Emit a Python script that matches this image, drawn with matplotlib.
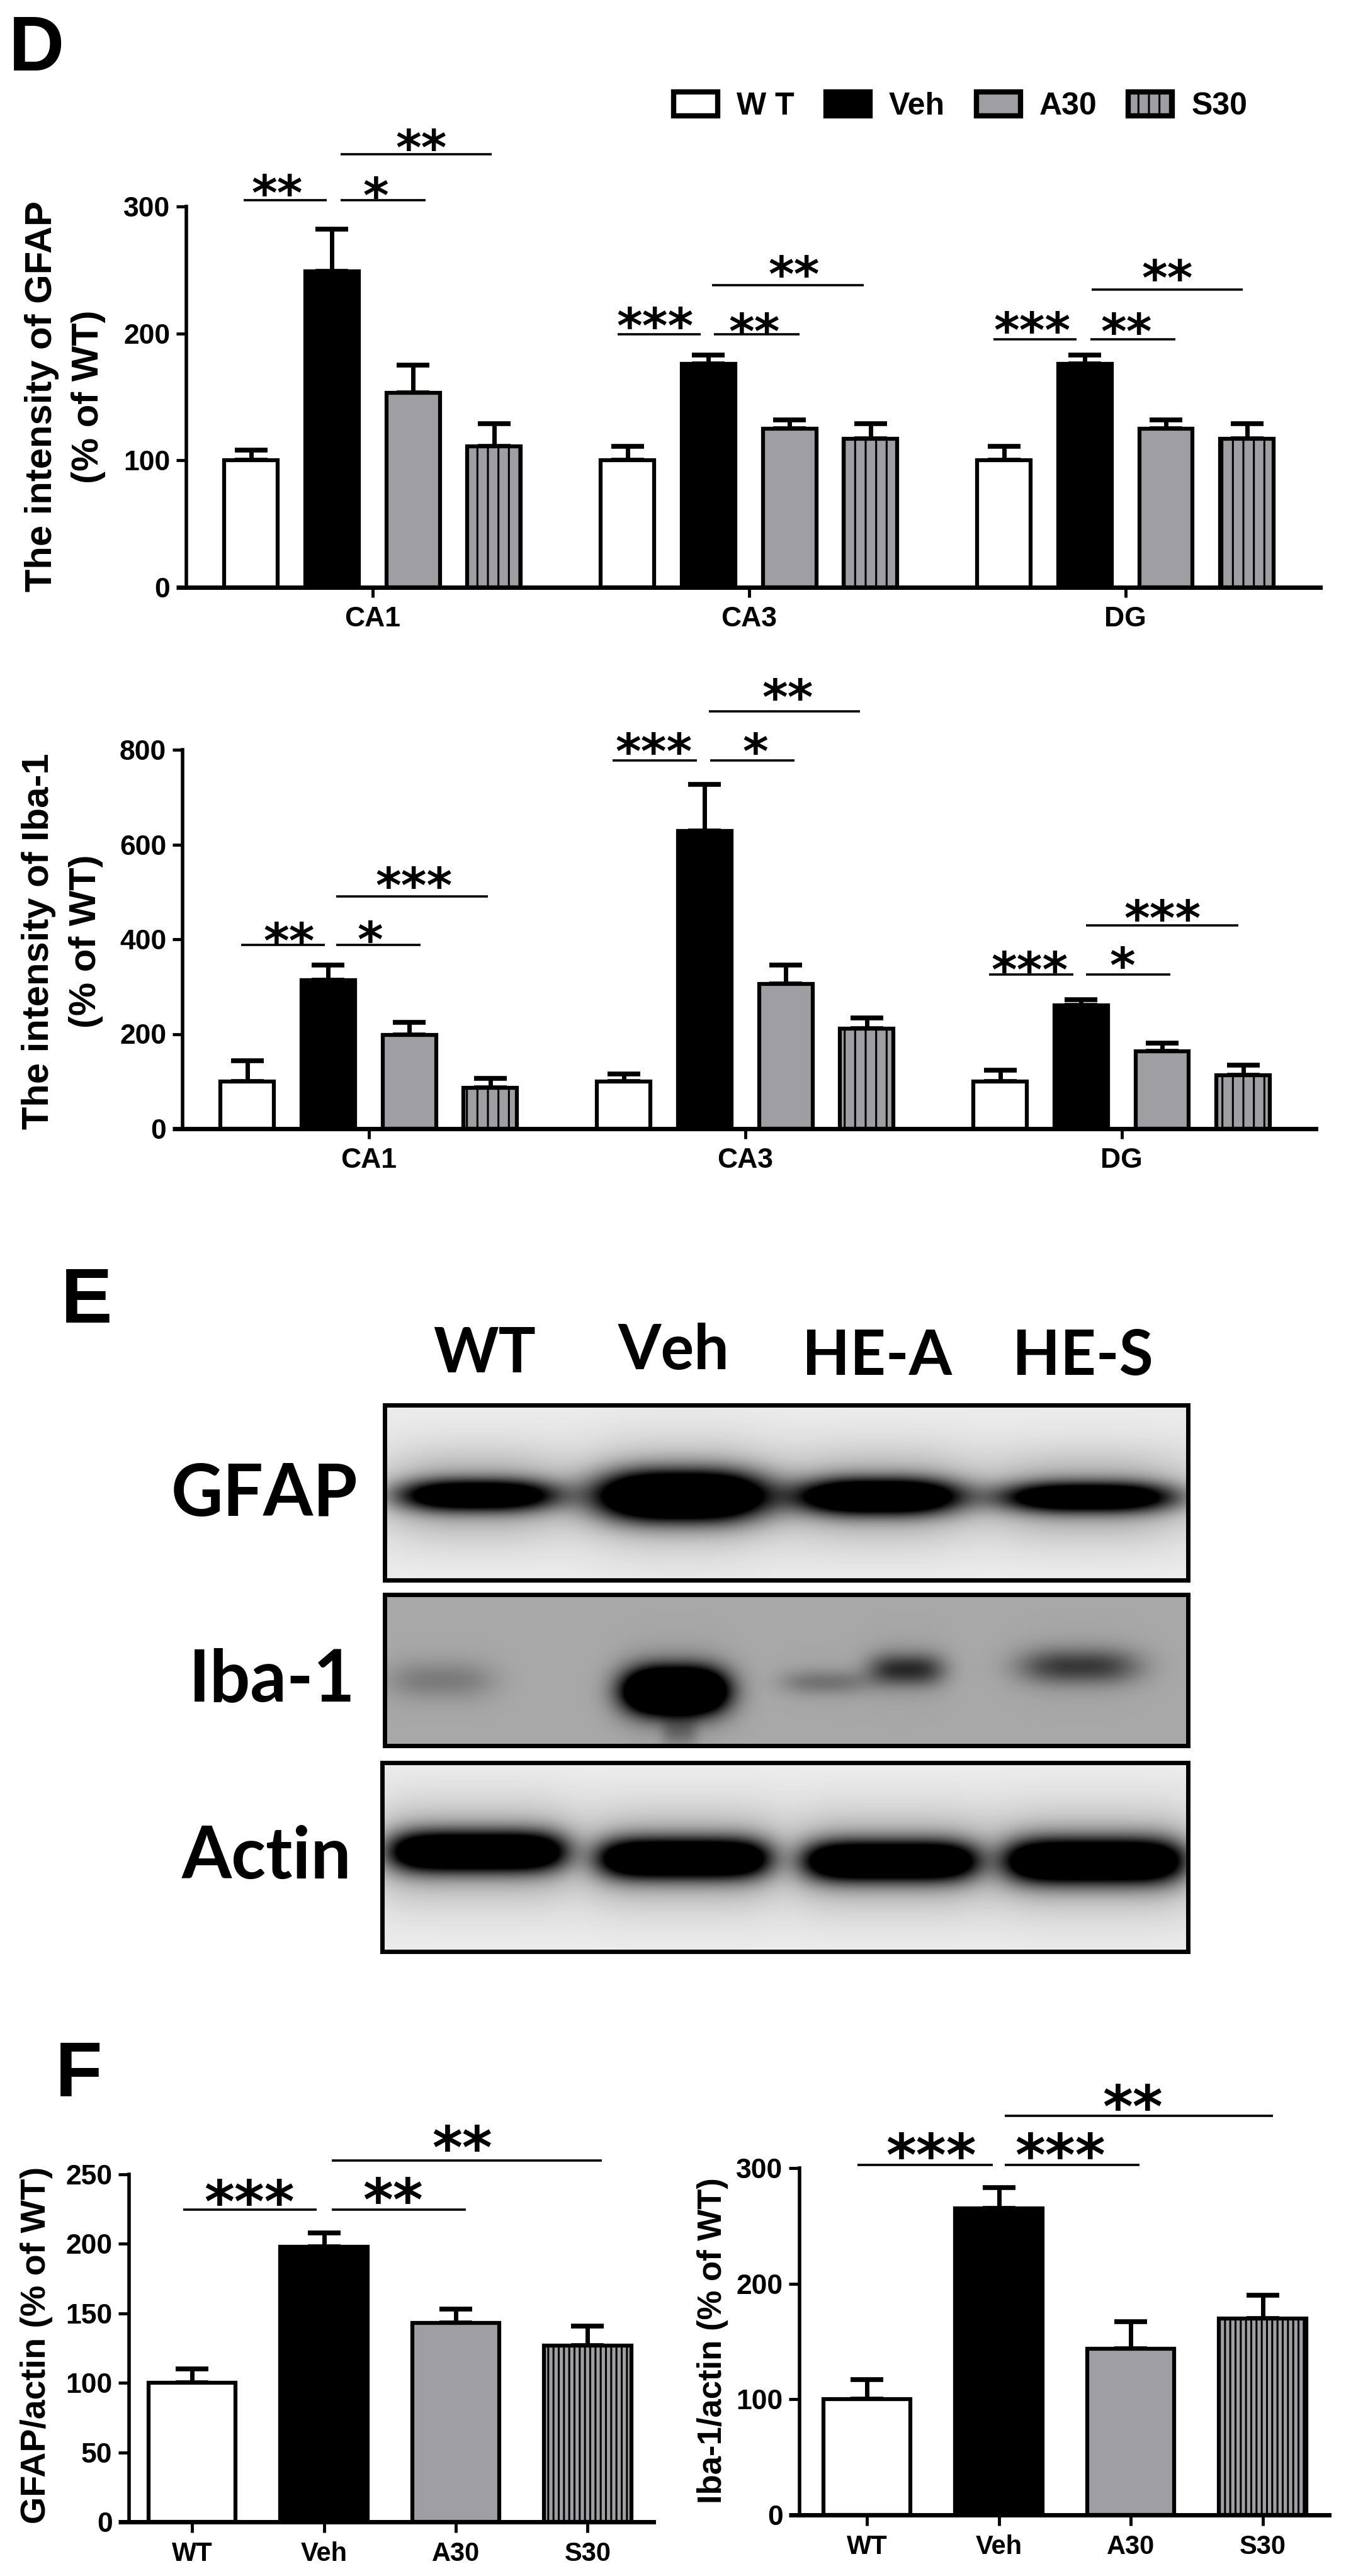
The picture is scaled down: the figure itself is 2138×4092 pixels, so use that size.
#!/usr/bin/env python3
"""Panels D, E, F: GFAP / Iba-1 intensity bars and western blot."""

import numpy as np
import matplotlib
matplotlib.use('Agg')
import matplotlib.pyplot as plt
from matplotlib.patches import Patch

W, H = 2138, 4092
DPI = 100
GRAY = '#9e9ea3'
STAR_FONT = 'DejaVu Sans'
LABEL_FONT = ['Liberation Sans Narrow', 'Liberation Sans', 'DejaVu Sans']

plt.rcParams['font.family'] = ['Liberation Sans', 'DejaVu Sans']
plt.rcParams['font.weight'] = 'bold'
plt.rcParams['hatch.linewidth'] = 2.2

groups = ['CA1', 'CA3', 'DG']
series = ['WT', 'Veh', 'A30', 'S30']
legend_labels = ['W T', 'Veh', 'A30', 'S30']

# rows are CA1, CA3, DG; columns are WT, Veh, A30, S30
gfap_mean = [[100, 249, 153, 111], [100, 176, 125, 117], [100, 176, 125, 117]]
gfap_sem = [[8, 33, 22, 18], [11, 7, 7, 12], [11, 7, 7, 12]]
iba_mean = [[100, 314, 198, 86], [100, 628, 306, 211], [100, 261, 164, 113]]
iba_sem = [[44, 32, 27, 20], [16, 99, 40, 23], [24, 11, 17, 21]]

gfap_actin_mean = [100, 198, 143, 127]
gfap_actin_sem = [10, 10, 10, 14]
iba_actin_mean = [100, 265, 144, 170]
iba_actin_sem = [17, 18, 23, 20]

blot_lanes = ['WT', 'Veh', 'HE-A', 'HE-S']
blot_rows = ['GFAP', 'Iba-1', 'Actin']

# band tables: x centre, y centre, half width, half height, strength (pixels)
gfap_bands = [(758, 2375, 125, 24, 1.15), (1082, 2376, 132, 37, 1.6),
              (1396, 2377, 128, 27, 1.35), (1728, 2378, 138, 23, 1.15)]
iba_bands = [(700, 2669, 85, 30, 0.17), (1072, 2686, 80, 36, 1.75),
             (1079, 2752, 28, 24, 0.18), (1440, 2652, 60, 26, 0.48),
             (1311, 2672, 70, 20, 0.2), (1714, 2647, 95, 28, 0.42)]
actin_bands = [(758, 2941, 140, 31, 1.3), (1086, 2952, 136, 31, 1.3),
               (1414, 2956, 138, 31, 1.3), (1738, 2956, 142, 34, 1.35)]

fig = plt.figure(figsize=(W / DPI, H / DPI), dpi=DPI, facecolor='white')


def box(left, top, right, bottom):
    return fig.add_axes([left / W, 1 - bottom / H, (right - left) / W, (bottom - top) / H])


over = fig.add_axes([0, 0, 1, 1], zorder=10)
over.set_xlim(0, W)
over.set_ylim(H, 0)
over.axis('off')
over.patch.set_alpha(0)


def style_axes(ax, yticks, x0_px, xsize):
    for side in ('top', 'right'):
        ax.spines[side].set_visible(False)
    ax.spines['left'].set_linewidth(4)
    ax.spines['bottom'].set_linewidth(5)
    ax.set_yticks(yticks)
    ax.set_ylim(0, yticks[-1])
    ax.tick_params(axis='y', length=x0_px, width=3.5, labelsize=32, pad=7)
    ax.tick_params(axis='x', length=x0_px, width=3.5, labelsize=xsize, pad=10)
    # the zero tick carries on the thick base line, as Prism draws it
    ax.yaxis.get_major_ticks()[0].tick1line.set_markeredgewidth(5)
    ax.set_axisbelow(False)


def draw_bar(ax, x, mean, sem, kind, width, hatch):
    color = {'WT': 'white', 'Veh': 'black', 'A30': GRAY, 'S30': GRAY}[kind]
    ax.errorbar(x, mean, yerr=[[0], [sem]], color='black', elinewidth=5,
                capsize=19, capthick=5.5, zorder=1)
    ax.bar(x, mean, width=width, color=color, edgecolor='black', linewidth=4.5,
           hatch=hatch if kind == 'S30' else None, zorder=2)


def grouped_panel(rect, means, sems, yticks):
    ax = box(*rect)
    step_px = 128.6
    centers = np.arange(3) * 4.65
    for g, center in enumerate(centers):
        for i, kind in enumerate(series):
            draw_bar(ax, center + i - 1.5, means[g][i], sems[g][i], kind, 0.66, '|')
    ax.set_xlim(-2.30, (rect[2] - rect[0]) / step_px - 2.30)
    ax.set_xticks(centers)
    ax.set_xticklabels(groups)
    style_axes(ax, yticks, 11.5, 32)
    return ax


def single_panel(rect, first_center, means, sems, yticks):
    ax = box(*rect)
    step_px = 209.5
    for i, kind in enumerate(series):
        draw_bar(ax, i, means[i], sems[i], kind, 0.66, '||')
    left = (rect[0] - first_center) / step_px
    ax.set_xlim(left, left + (rect[2] - rect[0]) / step_px)
    ax.set_xticks(range(4))
    ax.set_xticklabels(series)
    style_axes(ax, yticks, 12, 30)
    return ax


def sig(x0, x1, y, stars, tx, ty, sx, sy, off, size=56):
    """Significance line and stars, given in zoomed crop coordinates."""
    over.plot([x0 / sx, x1 / sx], [y / sy + off] * 2, color='black', lw=2.6,
              solid_capstyle='butt')
    em = size * DPI / 72
    over.text(tx / sx, ty / sy + off + 0.52 * em, stars, family=STAR_FONT, weight='bold',
              fontsize=size, ha='center', va='baseline', color='black')


def blot(rect, bands, background, halo, gutter, power=3):
    left, top, right, bottom = rect
    ax = box(*rect)
    yy, xx = np.mgrid[top:bottom, left:right].astype(float)
    img = np.full(xx.shape, background, dtype=float)
    # soft vertical fade towards the panel edges, darker behind the bands
    mid = (top + bottom) / 2
    img -= gutter * np.exp(-((yy - mid) / ((bottom - top) * 0.32)) ** 2)
    for cx, cy, hw, hh, strength in bands:
        core = np.exp(-np.abs((xx - cx) / hw) ** power) * np.exp(-((yy - cy) / hh) ** 2)
        wide = np.exp(-np.abs((xx - cx) / (hw * 1.15)) ** power) * np.exp(-((yy - cy) / (hh + 42)) ** 2)
        img -= strength * core + halo * min(strength, 1.0) * wide
    ax.imshow(np.clip(img, 0, 1), cmap='gray', vmin=0, vmax=1, aspect='auto',
              extent=(left, right, bottom, top), interpolation='bilinear')
    ax.set_xticks([])
    ax.set_yticks([])
    for spine in ax.spines.values():
        spine.set_linewidth(5)
    return ax


# panel D
grouped_panel((296, 328, 2097, 933), gfap_mean, gfap_sem, [0, 100, 200, 300])
grouped_panel((290, 1191, 2090, 1793), iba_mean, iba_sem, [0, 200, 400, 600, 800])

handles = [Patch(facecolor='white', edgecolor='black', linewidth=6),
           Patch(facecolor='black', edgecolor='black', linewidth=6),
           Patch(facecolor=GRAY, edgecolor='black', linewidth=6),
           Patch(facecolor=GRAY, edgecolor='black', linewidth=6, hatch='|')]
fig.legend(handles, legend_labels, loc='upper left', bbox_to_anchor=(1070 / W, 1 - 146 / H),
           ncol=4, frameon=False, fontsize=36, handlelength=1.4, handleheight=0.8,
           handletextpad=0.6, columnspacing=1.0, borderaxespad=0, borderpad=0)

for args in [(283, 380, 498, '**', 322, 460), (396, 495, 498, '*', 437, 465),
             (396, 572, 383, '**', 490, 347), (718, 815, 831, '***', 762, 790),
             (830, 930, 831, '**', 877, 803), (828, 1004, 709, '**', 923, 662),
             (1155, 1252, 843, '***', 1200, 800), (1268, 1367, 843, '**', 1310, 803),
             (1269, 1445, 720, '**', 1357, 670)]:
    sig(*args, 0.732, 1.565, 0)
for args in [(280, 378, 872, '**', 336, 838), (391, 489, 872, '*', 430, 835),
             (391, 567, 737, '***', 481, 685), (712, 810, 362, '***', 760, 315),
             (826, 924, 362, '*', 878, 315), (824, 1000, 227, '**', 916, 165),
             (1150, 1248, 953, '***', 1197, 918), (1263, 1361, 953, '*', 1305, 905),
             (1263, 1440, 817, '***', 1352, 775)]:
    sig(*args, 0.732, 1.74, 1000)

# panel E
blot((611, 2232, 1887, 2510), gfap_bands, 0.93, 0.26, 0.06)
blot((611, 2533, 1887, 2773), iba_bands, 0.66, 0.05, 0.0)
blot((607, 2800, 1887, 3100), actin_bands, 0.93, 0.26, 0.06, power=5)

for name, cx, base in zip(blot_lanes, [770, 1070, 1393, 1720], [2180, 2175, 2184, 2184]):
    over.text(cx, base, name, family=['Lato', 'Liberation Sans'], fontsize=71, ha='center',
              va='baseline', color='black')
for name, cx, base in zip(blot_rows, [420, 432, 423], [2408, 2702, 2984]):
    over.text(cx, base, name, family=['Lato', 'Liberation Sans'], fontsize=82, ha='center',
              va='baseline', color='black')

# panel F
single_panel((205, 3454, 1038, 4006), 305, gfap_actin_mean, gfap_actin_sem,
             [0, 50, 100, 150, 200, 250])
single_panel((1270, 3444, 2111, 3995), 1377, iba_actin_mean, iba_actin_sem,
             [0, 100, 200, 300])

for args in [(213, 368, 544, '***', 290, 495), (386, 542, 544, '**', 457, 490),
             (386, 700, 407, '**', 537, 345), (997, 1154, 420, '***', 1083, 365),
             (1168, 1325, 420, '***', 1233, 365), (1168, 1480, 283, '**', 1317, 230)]:
    sig(*args, 0.732, 1.755, 3200, size=66)

# axis titles and panel letters
for text, x, y, size in [('The intensity of GFAP', 67, 630, 43), ('(% of WT)', 140, 630, 43),
                         ('The intensity of Iba-1', 62, 1495, 43), ('(% of WT)', 137, 1495, 43),
                         ('GFAP/actin (% of WT)', 58, 3725, 40),
                         ('Iba-1/actin (% of WT)', 1132, 3718, 38)]:
    over.text(x, y, text, family=LABEL_FONT, fontsize=size, rotation=90, ha='center',
              va='center', color='black')

for letter, x, base in [('D', 58, 112), ('E', 138, 2101), ('F', 125, 3330)]:
    over.text(x, base, letter, fontsize=88, ha='center', va='baseline', color='black')

fig.savefig('out.png', dpi=DPI)
plt.close(fig)
